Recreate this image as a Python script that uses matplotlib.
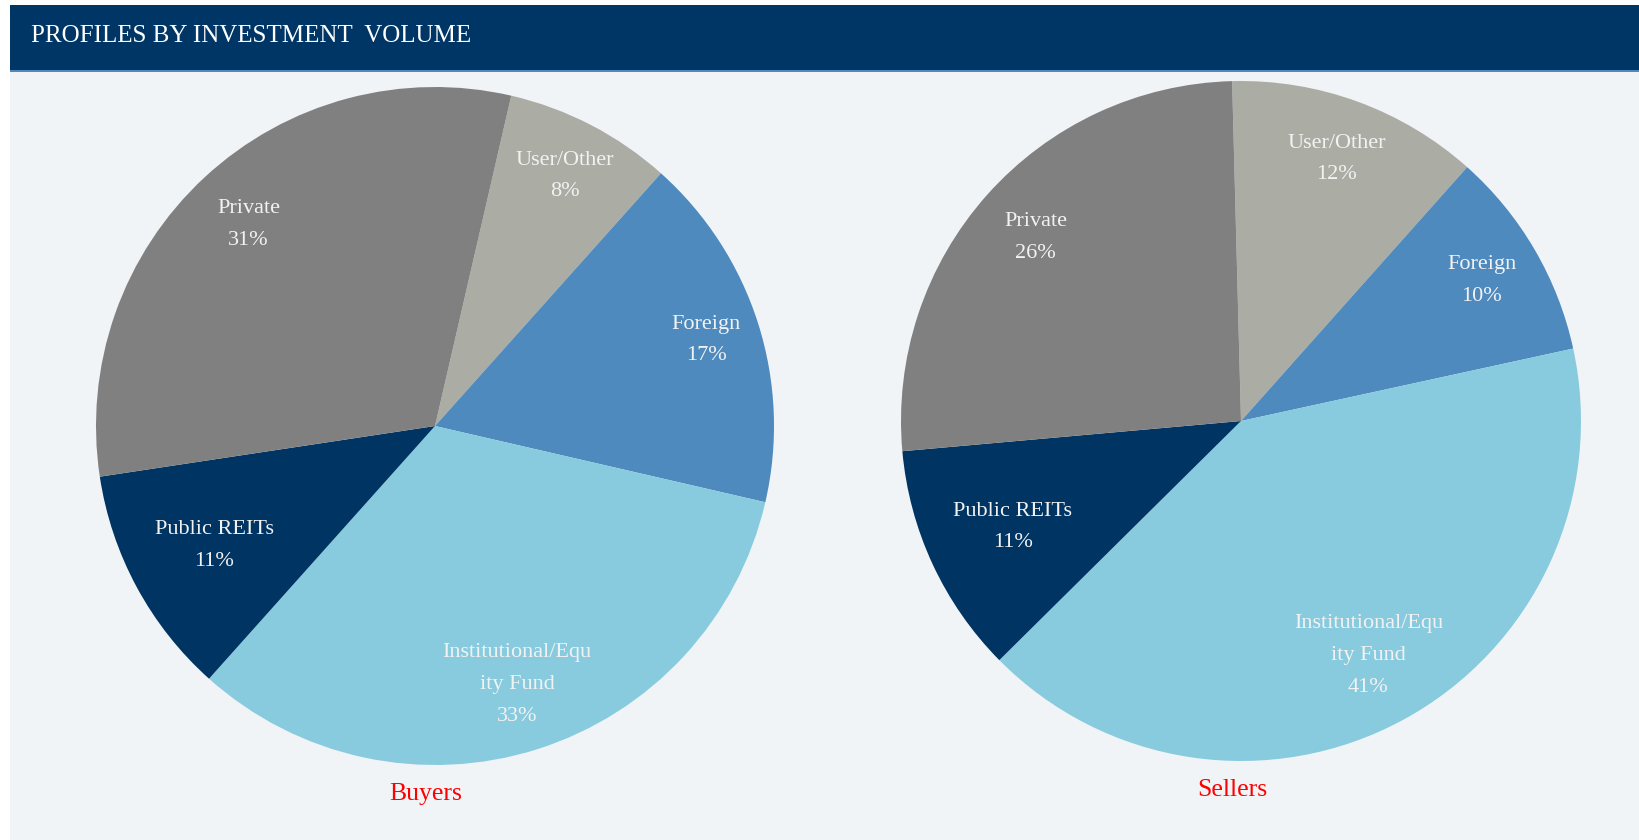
import matplotlib.pyplot as plt
from matplotlib.patches import Rectangle
import numpy as np

# data
buyer_labels = ["User/Other", "Foreign", "Institutional/Equ\nity Fund", "Public REITs", "Private"]
buyer_values = [8, 17, 33, 11, 31]
seller_labels = ["User/Other", "Foreign", "Institutional/Equ\nity Fund", "Public REITs", "Private"]
seller_values = [12, 10, 41, 11, 26]
slice_colors = ["#ABADA5", "#4F8ABE", "#89CBDE", "#003462", "#808080"]

W, H = 1639, 840
plt.rcParams['font.family'] = ['Liberation Serif', 'DejaVu Serif']

fig = plt.figure(figsize=(W / 100, H / 100), dpi=100)
fig.patch.set_facecolor("white")

# panel background, header band and thin rule
fig.add_artist(Rectangle((10 / W, 0), 1, (H - 5) / H, transform=fig.transFigure,
                         facecolor="#F0F4F7", edgecolor="none", zorder=0))
fig.add_artist(Rectangle((10 / W, (H - 70) / H), 1, 65 / H, transform=fig.transFigure,
                         facecolor="#003665", edgecolor="none", zorder=1))
fig.add_artist(Rectangle((10 / W, (H - 72) / H), 1, 2.5 / H, transform=fig.transFigure,
                         facecolor="#4F8ABE", edgecolor="none", zorder=1))
fig.text(31 / W, (H - 36) / H, "PROFILES BY INVESTMENT  VOLUME", color="white",
         fontsize=18, va="center", ha="left")


def draw_pie(cx, cy, r, values, labels, start, dists, title):
    ax = fig.add_axes([(cx - r) / W, (H - cy - r) / H, 2 * r / W, 2 * r / H])
    ax.set_facecolor("none")
    texts = [f"{l}\n{v}%" for l, v in zip(labels, values)]
    wedges, tx = ax.pie(values, colors=slice_colors, startangle=start, counterclock=False,
                        labels=texts, labeldistance=0.8,
                        wedgeprops=dict(linewidth=0),
                        textprops=dict(color="#F2F2F2", fontsize=16, linespacing=1.9,
                                       ha="center", va="center"))
    for w, t, d in zip(wedges, tx, dists):
        a = np.deg2rad((w.theta1 + w.theta2) / 2)
        t.set_position((d * np.cos(a), d * np.sin(a)))
        t.set_ha("center")
        t.set_va("center")
    ax.set_xlim(-1, 1)
    ax.set_ylim(-1, 1)
    ax.set_aspect("equal")
    ax.axis("off")
    fig.text((cx - 9) / W, (H - cy - r - 18) / H, title, color="#FF0000", fontsize=18.5,
             ha="center", va="top")


draw_pie(435, 426, 339, buyer_values, buyer_labels, 77, [0.83, 0.84, 0.80, 0.74, 0.81], "Buyers")
draw_pie(1241, 421, 340, seller_values, seller_labels, 91.5, [0.82, 0.82, 0.785, 0.74, 0.81], "Sellers")

fig.savefig("out.png", dpi=100, facecolor=fig.get_facecolor())
